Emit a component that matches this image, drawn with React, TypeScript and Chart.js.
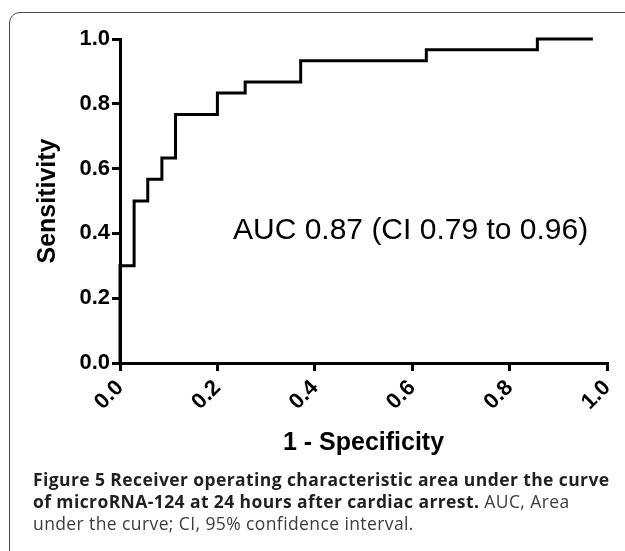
import React, { useEffect, useRef } from "react";
import { Chart, registerables } from "chart.js";

Chart.register(...registerables);

// ROC curve points (1 - specificity, sensitivity)
const fpr = [0, 0, 0.029, 0.057, 0.086, 0.114, 0.2, 0.257, 0.371, 0.629, 0.857, 0.971];
const tpr = [0, 0.3, 0.5, 0.567, 0.633, 0.767, 0.833, 0.867, 0.933, 0.967, 1.0, 1.0];

const xTicks = [0, 0.2, 0.4, 0.6, 0.8, 1.0];
const yTicks = [0, 0.2, 0.4, 0.6, 0.8, 1.0];

const xTitle = "1 - Specificity";
const yTitle = "Sensitivity";
const aucLabel = "AUC 0.87 (CI 0.79 to 0.96)";
const aucAnchor = { x: 0.232, y: 0.383 };

const FONT = '"Liberation Sans", Arial, Helvetica, sans-serif';

const aucPlugin = {
  id: "aucLabel",
  afterDatasetsDraw(chart: any) {
    const { ctx, scales } = chart;
    const px = scales.x.getPixelForValue(aucAnchor.x);
    const py = scales.y.getPixelForValue(aucAnchor.y);
    ctx.save();
    ctx.font = `30px ${FONT}`;
    ctx.fillStyle = "#000";
    ctx.textAlign = "left";
    ctx.textBaseline = "alphabetic";
    ctx.fillText(aucLabel, px, py);
    ctx.restore();
  },
};

function RocChart() {
  const ref = useRef<HTMLCanvasElement | null>(null);
  useEffect(() => {
    if (!ref.current) return;
    const data = fpr.map((x, i) => ({ x, y: tpr[i] }));
    const chart = new Chart(ref.current, {
      type: "scatter",
      data: {
        datasets: [
          {
            data,
            showLine: true,
            stepped: "before",
            borderColor: "#000",
            borderWidth: 3,
            pointRadius: 0,
            fill: false,
            clip: 6,
          } as any,
        ],
      },
      options: {
        animation: false,
        responsive: true,
        maintainAspectRatio: false,
        layout: { padding: { left: 28, right: 18, top: 39, bottom: 0 } },
        plugins: { legend: { display: false }, tooltip: { enabled: false } },
        scales: {
          x: {
            type: "linear",
            min: 0,
            max: 1,
            afterBuildTicks: (s: any) => {
              s.ticks = xTicks.map((v) => ({ value: v }));
            },
            ticks: {
              callback: (v: any) => Number(v).toFixed(1),
              minRotation: 45,
              maxRotation: 45,
              color: "#000",
              padding: 4,
              font: { family: FONT, size: 22, weight: "bold" },
            },
            grid: {
              drawOnChartArea: false,
              drawTicks: true,
              tickLength: 8,
              lineWidth: 3,
              color: "#000",
            },
            border: { display: true, width: 3, color: "#000" },
            title: {
              display: true,
              text: xTitle,
              color: "#000",
              font: { family: FONT, size: 25, weight: "bold" },
              padding: { top: 0, bottom: 12 },
            },
            afterFit: (s: any) => {
              s.height = 107;
              s.paddingLeft = 0;
              s.paddingRight = 0;
            },
          },
          y: {
            type: "linear",
            min: 0,
            max: 1,
            afterBuildTicks: (s: any) => {
              s.ticks = yTicks.map((v) => ({ value: v }));
            },
            ticks: {
              callback: (v: any) => Number(v).toFixed(1),
              color: "#000",
              padding: 2,
              font: { family: FONT, size: 22, weight: "bold" },
            },
            grid: {
              drawOnChartArea: false,
              drawTicks: true,
              tickLength: 8,
              lineWidth: 3,
              color: "#000",
            },
            border: { display: true, width: 3, color: "#000" },
            title: {
              display: true,
              text: yTitle,
              color: "#000",
              font: { family: FONT, size: 25, weight: "bold" },
              padding: { top: 5, bottom: 0 },
            },
            afterFit: (s: any) => {
              s.width = 92;
              s.paddingTop = 0;
              s.paddingBottom = 0;
            },
          },
        },
      } as any,
      plugins: [aucPlugin],
    });
    return () => chart.destroy();
  }, []);
  return (
    <div style={{ position: "absolute", left: 0, top: 0, width: 625, height: 470 }}>
      <canvas ref={ref} />
    </div>
  );
}

export default function App() {
  return (
    <div
      style={{
        position: "fixed",
        left: 0,
        top: 0,
        width: 625,
        height: 551,
        overflow: "hidden",
        background: "#fff",
      }}
    >
      <div
        style={{
          position: "absolute",
          left: 9,
          top: 12,
          width: 700,
          height: 700,
          border: "1.5px solid #4a4a4a",
          borderTopLeftRadius: 11,
          boxSizing: "border-box",
        }}
      />
      <RocChart />
      <div
        style={{
          position: "absolute",
          left: 33,
          top: 468,
          fontFamily: '"Open Sans", "Noto Sans", sans-serif',
          fontSize: 17.5,
          letterSpacing: "0.4px",
          lineHeight: "22px",
          whiteSpace: "nowrap",
          color: "#3c3c3c",
        }}
      >
        <b style={{ color: "#231f20" }}>
          Figure 5 Receiver operating characteristic area under the curve
        </b>
        <br />
        <b style={{ color: "#231f20" }}>of microRNA-124 at 24 hours after cardiac arrest.</b> AUC, Area
        <br />
        under the curve; CI, 95% confidence interval.
      </div>
    </div>
  );
}
